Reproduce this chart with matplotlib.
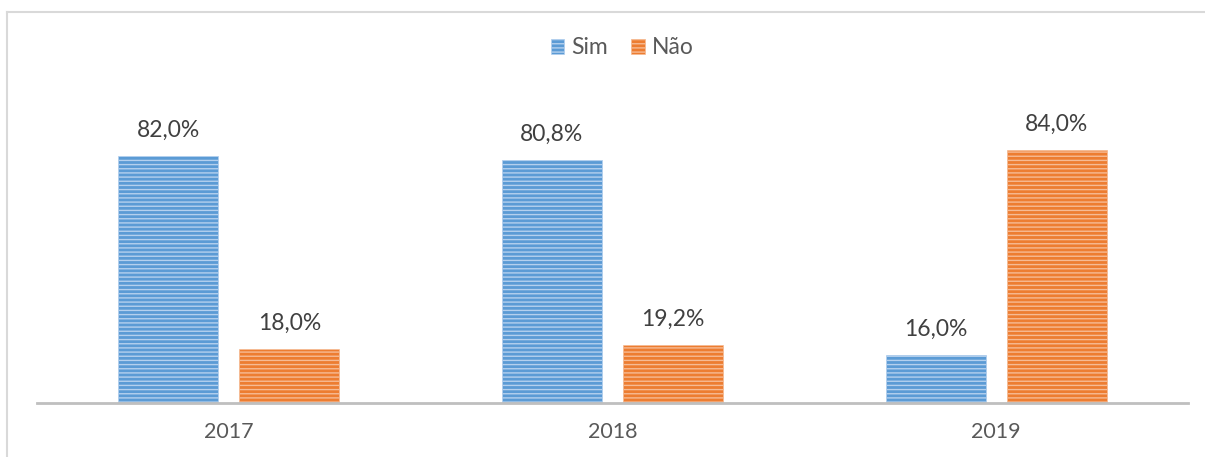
import numpy as np
import matplotlib.pyplot as plt
from matplotlib.lines import Line2D

plt.rcParams['font.family'] = ['Lato', 'DejaVu Sans']
plt.rcParams['hatch.linewidth'] = 1.0

anos = ['2017', '2018', '2019']
sim = [82.0, 80.8, 16.0]
nao = [18.0, 19.2, 84.0]

cor_sim = '#5b9bd5'
cor_nao = '#ed7d31'
cinza_txt = '#595959'

W, H = 1205, 457
fig = plt.figure(figsize=(W / 100, H / 100), dpi=100)

# moldura do gráfico (cortada à direita e em baixo)
fig.add_artist(Line2D([7.5 / W, 7.5 / W], [0, 1 - 11.5 / H], transform=fig.transFigure,
                      color='#d9d9d9', linewidth=1.5))
fig.add_artist(Line2D([7.5 / W, 1], [1 - 11.5 / H, 1 - 11.5 / H], transform=fig.transFigure,
                      color='#d9d9d9', linewidth=1.5))

ax = fig.add_axes([37 / W, 54 / H, (1188 - 37) / W, (403 - 102) / H])

x = np.arange(len(anos))
larg = 100 / 384
desl = 0.158

b1 = ax.bar(x - desl, sim, larg, color=cor_sim, edgecolor='#b4d0ee',
            hatch='----', linewidth=0.5, label='Sim')
b2 = ax.bar(x + desl, nao, larg, color=cor_nao, edgecolor='#f6bb94',
            hatch='----', linewidth=0.5, label='Não')

for barras in (b1, b2):
    for b in barras:
        v = b.get_height()
        ax.annotate(f'{v:.1f}%'.replace('.', ','),
                    (b.get_x() + b.get_width() / 2, v),
                    xytext=(0, 11), textcoords='offset points',
                    ha='center', va='bottom', fontsize=16.5, color='#404040')

ax.set_xlim(-0.5, 2.5)
ax.set_ylim(0, 100)
ax.set_xticks(x)
ax.set_xticklabels(anos, fontsize=15.5, color=cinza_txt)
ax.tick_params(axis='x', length=0, pad=14)
ax.set_yticks([])
for s in ['top', 'right', 'left']:
    ax.spines[s].set_visible(False)
ax.spines['bottom'].set_color('#bfbfbf')
ax.spines['bottom'].set_linewidth(2)

fig.legend(handles=[b1, b2], loc='center', bbox_to_anchor=(622 / W, 1 - 48 / H),
           ncol=2, frameon=False, fontsize=16.5, handlelength=0.6,
           handleheight=0.6, handletextpad=0.3, columnspacing=1.0,
           labelcolor=cinza_txt)

fig.savefig('out.png', dpi=100, facecolor='white')
